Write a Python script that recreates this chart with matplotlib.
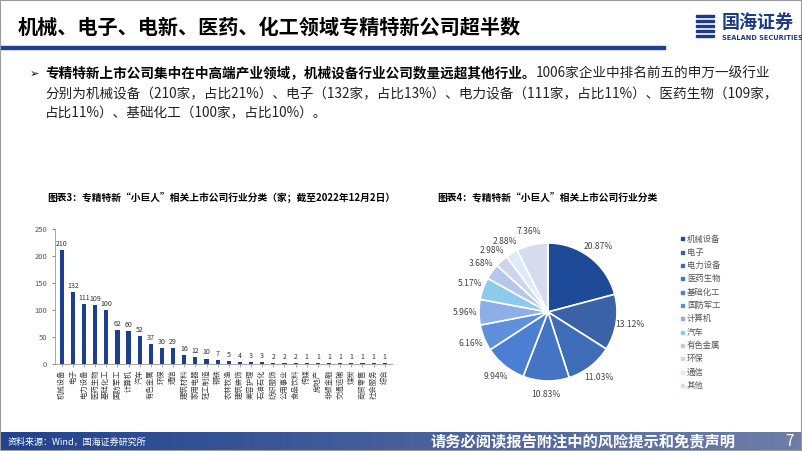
import numpy as np
import matplotlib
matplotlib.use("Agg")
import matplotlib.pyplot as plt
from matplotlib.patches import Rectangle

plt.rcParams['font.family'] = ['Noto Sans CJK SC', 'DejaVu Sans']

# 数据：申万一级行业（家）
industries = ['机械设备', '电子', '电力设备', '医药生物', '基础化工', '国防军工', '计算机', '汽车',
              '有色金属', '环保', '通信', '建筑材料', '家用电器', '轻工制造', '钢铁', '农林牧渔',
              '建筑装饰', '美容护理', '石油石化', '纺织服饰', '公用事业', '食品饮料', '传媒', '房地产',
              '非银金融', '交通运输', '煤炭', '商贸零售', '社会服务', '综合']
counts = [210, 132, 111, 109, 100, 62, 60, 52, 37, 30, 29, 16, 12, 10, 7, 5,
          4, 3, 3, 2, 2, 2, 1, 1, 1, 1, 1, 1, 1, 1]

pie_names = ['机械设备', '电子', '电力设备', '医药生物', '基础化工', '国防军工', '计算机', '汽车',
             '有色金属', '环保', '通信', '其他']
pie_values = [210, 132, 111, 109, 100, 62, 60, 52, 37, 30, 29, 74]
pie_colors = ['#1c4a96', '#3a62a6', '#3e6cb6', '#4574c4', '#4c7ed2', '#5f90dc', '#8daee6',
              '#8ccbea', '#b5c8ec', '#ccd5ec', '#ddebf8', '#d6dbee']

W, H = 802, 451


def fx(x):
    return x / W


def fy(y):
    return 1 - y / H


fig = plt.figure(figsize=(8.02, 4.51), dpi=100)
fig.patch.set_facecolor('white')

# 页眉
fig.text(fx(18), fy(27), '机械、电子、电新、医药、化工领域专精特新公司超半数',
         fontsize=14.5, fontweight='bold', color='black', va='center', ha='left')
fig.add_artist(Rectangle((0, fy(49)), fx(665), 3 / H, color='#1f3f8f', transform=fig.transFigure))
fig.text(fx(722), fy(22), '国海证券', fontsize=13, fontweight='bold', color='#1b3a8a',
         va='center', ha='left')
fig.text(fx(722), fy(38), 'SEALAND SECURITIES', fontsize=4.8, fontweight='bold', color='#1b3a8a',
         va='center', ha='left', family='DejaVu Sans')
for k in range(5):
    fig.add_artist(Rectangle((fx(696), fy(17 + k * 5)), fx(18), 2 / H, color='#1b3a8a',
                             transform=fig.transFigure))

# 正文
fig.text(fx(30), fy(74), '➢', fontsize=8, color='black', va='center', family='DejaVu Sans')
t1 = fig.text(fx(45), fy(74), '专精特新上市公司集中在中高端产业领域，机械设备行业公司数量远超其他行业。',
              fontsize=9.8, fontweight='bold', va='center')
fig.canvas.draw()
bb = t1.get_window_extent()
fig.text(bb.x1 / W, fy(74), '1006家企业中排名前五的申万一级行业', fontsize=9.8, va='center',
         color='#222222')
fig.text(fx(45), fy(94), '分别为机械设备（210家，占比21%）、电子（132家，占比13%）、电力设备（111家，占比11%）、医药生物（109家，',
         fontsize=9.8, va='center', color='#222222')
fig.text(fx(45), fy(113), '占比11%）、基础化工（100家，占比10%）。', fontsize=9.8, va='center', color='#222222')

# 图表标题
fig.text(fx(47), fy(197), '图表3：专精特新“小巨人”相关上市公司行业分类（家；截至2022年12月2日）',
         fontsize=7, fontweight='bold', va='center')
fig.text(fx(437), fy(197), '图表4：专精特新“小巨人”相关上市公司行业分类',
         fontsize=7, fontweight='bold', va='center')

# 柱状图
ax = fig.add_axes([fx(55), fy(364), (392 - 55) / W, (364 - 228.5) / H])
x = np.arange(len(industries))
bars = ax.bar(x, counts, width=0.38, color='#1c3f8f')
ax.set_ylim(0, 250)
ax.set_xlim(-0.6, len(industries) - 0.35)
ax.set_yticks(np.arange(0, 251, 50))
ax.set_xticks(x)
ax.set_xticklabels(industries, rotation=90, fontsize=5.3, color='#404040')
ax.tick_params(axis='y', labelsize=5.5, colors='#555555', length=2, width=0.5)
ax.tick_params(axis='x', length=2, width=0.5, colors='#888888', pad=2)
for lab in ax.get_xticklabels():
    lab.set_color('#404040')
for s in ['top', 'right']:
    ax.spines[s].set_visible(False)
for s in ['left', 'bottom']:
    ax.spines[s].set_color('#999999')
    ax.spines[s].set_linewidth(0.6)
for xi, v in zip(x, counts):
    ax.text(xi, v + 4, str(v), ha='center', va='bottom', fontsize=5.1, color='#333333')

# 饼图
R = 69
pax = fig.add_axes([fx(548 - R), fy(312 + R), 2 * R / W, 2 * R / H])
wedges, texts, autotexts = pax.pie(pie_values, colors=pie_colors, startangle=90, counterclock=False,
                                   autopct='%.2f%%', pctdistance=1.2,
                                   wedgeprops=dict(edgecolor='white', linewidth=1.2),
                                   textprops=dict(fontsize=6.2, color='#444444'))
pax.set_xlim(-1, 1)
pax.set_ylim(-1, 1)
pax.set_aspect('equal')

# 图例
for i, (name, c) in enumerate(zip(pie_names, pie_colors)):
    yy = 239 + i * 13.3
    fig.add_artist(Rectangle((fx(681), fy(yy + 1.5)), 3 / W, 3 / H, color=c, transform=fig.transFigure))
    fig.text(fx(687), fy(yy), name, fontsize=6, color='#555555', va='center')

# 页脚
fax = fig.add_axes([0, 0, 1, 19 / H])
grad = np.linspace(0, 1, 256).reshape(1, -1)
c0 = np.array([0x20, 0x42, 0x8f]) / 255
c1 = np.array([0x6e, 0x7e, 0xa8]) / 255
img = c0[None, None, :] * (1 - grad[..., None]) + c1[None, None, :] * grad[..., None]
fax.imshow(img, aspect='auto', extent=[0, 1, 0, 1])
fax.set_axis_off()
fig.text(fx(8), fy(442), '资料来源：Wind，国海证券研究所', fontsize=6.5, color='white', va='center')
fig.text(fx(430), fy(441), '请务必阅读报告附注中的风险提示和免责声明', fontsize=11, color='white',
         fontweight='bold', style='italic', va='center')
fig.text(fx(790), fy(441), '7', fontsize=11, color='white', va='center', ha='center')

# 边框
fig.add_artist(Rectangle((0, 0), 1, 1, fill=False, edgecolor='#9a9a9a', linewidth=1.5,
                         transform=fig.transFigure))

fig.savefig('out.png', dpi=100)
